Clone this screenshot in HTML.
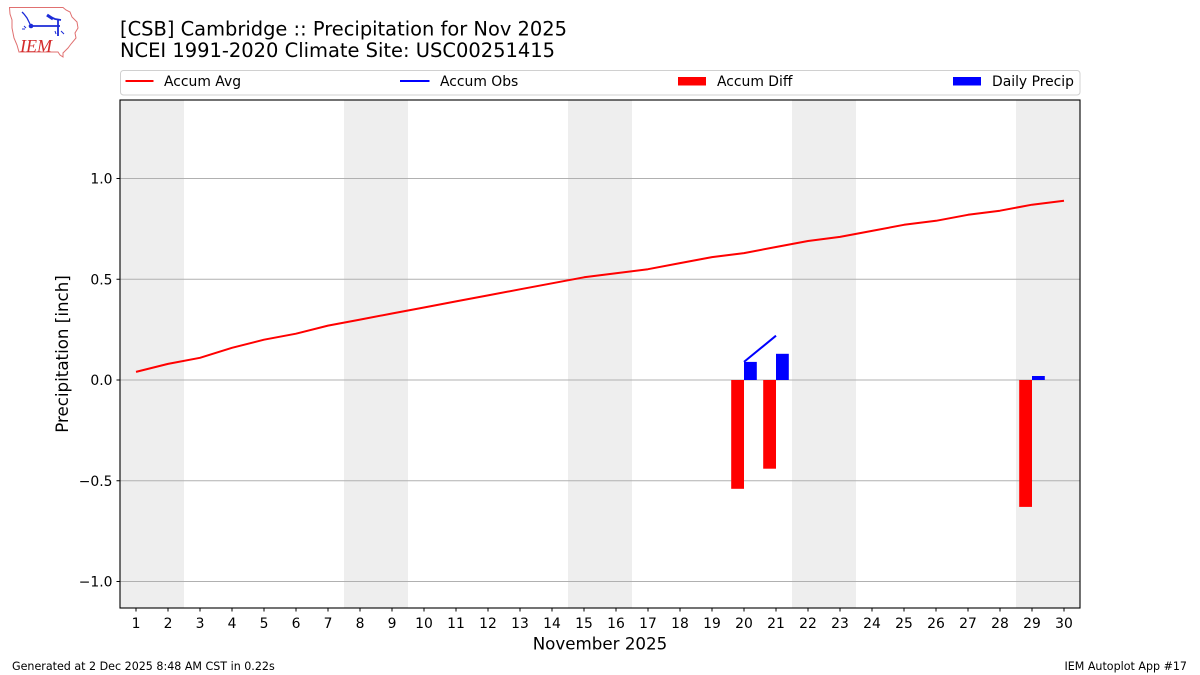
<!DOCTYPE html>
<html><head><meta charset="utf-8"><style>
html,body{margin:0;padding:0;background:#fff;}
svg{display:block;}
text{font-family:"DejaVu Sans","Liberation Sans",sans-serif;fill:#000;}
</style></head><body>
<svg width="1200" height="675" viewBox="0 0 1200 675" xmlns="http://www.w3.org/2000/svg">
<!-- logo -->
<g>
<path d="M9.5,7.5 L63,7.5 L66,10 L70,12 L72,17 L77,22 L78,28 L75,33 L76,38 L71,44 L68,48 L65,51 L63,53 L63,57 L60,55 L58,52 L19,52 L17,45 L14,38 L12,28 L12,20 L10,14 Z" fill="#fff" stroke="#e07070" stroke-width="1"/>
<path d="M22,12 L24,14 M24,14 L27,18 L30,24" stroke="#1c2bd8" stroke-width="1.3" fill="none"/>
<circle cx="31" cy="26" r="2.3" fill="#1c2bd8"/>
<path d="M31,26 L60,26 M58,20 L58,36 M48,16 L55,19 L61,20" stroke="#1c2bd8" stroke-width="1.8" fill="none"/>
<path d="M47,15 L53,19" stroke="#1c2bd8" stroke-width="3" fill="none"/>
<path d="M24,26 L26,28 M22,29 L25,29 M55,31 L56,34 M61,31 L64,34" stroke="#1c2bd8" stroke-width="1" fill="none"/>
<text x="20" y="52" style="font-family:'Liberation Serif',serif;font-style:italic;font-size:18px;fill:#d42a2a;">IEM</text>
</g>
<!-- title -->
<text x="120" y="35.5" font-size="19.4" textLength="447" lengthAdjust="spacingAndGlyphs">[CSB] Cambridge :: Precipitation for Nov 2025</text>
<text x="120" y="57" font-size="19.4" textLength="435" lengthAdjust="spacingAndGlyphs">NCEI 1991-2020 Climate Site: USC00251415</text>
<!-- legend -->
<rect x="120.5" y="70.5" width="959.5" height="24.5" rx="3" fill="#fff" stroke="#d0d0d0" stroke-width="1"/>
<line x1="125.5" y1="81" x2="153.5" y2="81" stroke="#ff0000" stroke-width="2"/>
<text x="164" y="86" font-size="13.9">Accum Avg</text>
<line x1="400" y1="81" x2="429.5" y2="81" stroke="#0000ff" stroke-width="2"/>
<text x="440" y="86" font-size="13.9">Accum Obs</text>
<rect x="678" y="77" width="28" height="8.5" fill="#ff0000"/>
<text x="717" y="86" font-size="13.9">Accum Diff</text>
<rect x="953" y="77" width="28" height="8.5" fill="#0000ff"/>
<text x="992" y="86" font-size="13.9">Daily Precip</text>
<!-- plot area -->
<rect x="120" y="100" width="960" height="508" fill="#fff"/>
<g fill="#eeeeee">
<rect x="120" y="100" width="64" height="508"/>
<rect x="344" y="100" width="64" height="508"/>
<rect x="568" y="100" width="64" height="508"/>
<rect x="792" y="100" width="64" height="508"/>
<rect x="1016" y="100" width="64" height="508"/>
</g>
<g stroke="#b0b0b0" stroke-width="1">
<line x1="120" y1="178.5" x2="1080" y2="178.5"/>
<line x1="120" y1="279.25" x2="1080" y2="279.25"/>
<line x1="120" y1="380" x2="1080" y2="380"/>
<line x1="120" y1="480.75" x2="1080" y2="480.75"/>
<line x1="120" y1="581.5" x2="1080" y2="581.5"/>
</g>
<!-- bars -->
<g fill="#ff0000">
<rect x="731.2" y="380" width="12.8" height="108.8"/>
<rect x="763.2" y="380" width="12.8" height="88.7"/>
<rect x="1019.2" y="380" width="12.8" height="126.9"/>
</g>
<g fill="#0000ff">
<rect x="744" y="361.9" width="12.8" height="18.1"/>
<rect x="776" y="353.8" width="12.8" height="26.2"/>
<rect x="1032" y="376" width="12.8" height="4"/>
</g>
<!-- avg line -->
<polyline fill="none" stroke="#ff0000" stroke-width="2" stroke-linejoin="round" stroke-linecap="butt" points="136,371.9 168,363.9 200,357.8 232,347.8 264,339.7 296,333.7 328,325.6 360,319.6 392,313.5 424,307.5 456,301.4 488,295.4 520,289.3 552,283.3 584,277.3 616,273.2 648,269.2 680,263.1 712,257.1 744,253.1 776,247 808,241 840,236.9 872,230.9 904,224.8 936,220.8 968,214.8 1000,210.7 1032,204.7 1064,200.7"/>
<!-- obs line -->
<polyline fill="none" stroke="#0000ff" stroke-width="2" points="744,361.9 776,335.7"/>
<!-- axes frame -->
<rect x="120" y="100" width="960" height="508" fill="none" stroke="#000" stroke-width="1.1"/>
<!-- y ticks -->
<g stroke="#000" stroke-width="1">
<line x1="116.5" y1="178.5" x2="120" y2="178.5"/>
<line x1="116.5" y1="279.25" x2="120" y2="279.25"/>
<line x1="116.5" y1="380" x2="120" y2="380"/>
<line x1="116.5" y1="480.75" x2="120" y2="480.75"/>
<line x1="116.5" y1="581.5" x2="120" y2="581.5"/>
</g>
<g font-size="13.9" text-anchor="end">
<text x="112.5" y="183.5">1.0</text>
<text x="112.5" y="284.3">0.5</text>
<text x="112.5" y="385">0.0</text>
<text x="112.5" y="485.8">−0.5</text>
<text x="112.5" y="586.5">−1.0</text>
</g>
<!-- x ticks -->
<g stroke="#000" stroke-width="1">
<line x1="136" y1="608" x2="136" y2="611.5"/><line x1="168" y1="608" x2="168" y2="611.5"/><line x1="200" y1="608" x2="200" y2="611.5"/><line x1="232" y1="608" x2="232" y2="611.5"/><line x1="264" y1="608" x2="264" y2="611.5"/><line x1="296" y1="608" x2="296" y2="611.5"/><line x1="328" y1="608" x2="328" y2="611.5"/><line x1="360" y1="608" x2="360" y2="611.5"/><line x1="392" y1="608" x2="392" y2="611.5"/><line x1="424" y1="608" x2="424" y2="611.5"/><line x1="456" y1="608" x2="456" y2="611.5"/><line x1="488" y1="608" x2="488" y2="611.5"/><line x1="520" y1="608" x2="520" y2="611.5"/><line x1="552" y1="608" x2="552" y2="611.5"/><line x1="584" y1="608" x2="584" y2="611.5"/><line x1="616" y1="608" x2="616" y2="611.5"/><line x1="648" y1="608" x2="648" y2="611.5"/><line x1="680" y1="608" x2="680" y2="611.5"/><line x1="712" y1="608" x2="712" y2="611.5"/><line x1="744" y1="608" x2="744" y2="611.5"/><line x1="776" y1="608" x2="776" y2="611.5"/><line x1="808" y1="608" x2="808" y2="611.5"/><line x1="840" y1="608" x2="840" y2="611.5"/><line x1="872" y1="608" x2="872" y2="611.5"/><line x1="904" y1="608" x2="904" y2="611.5"/><line x1="936" y1="608" x2="936" y2="611.5"/><line x1="968" y1="608" x2="968" y2="611.5"/><line x1="1000" y1="608" x2="1000" y2="611.5"/><line x1="1032" y1="608" x2="1032" y2="611.5"/><line x1="1064" y1="608" x2="1064" y2="611.5"/>
</g>
<g font-size="13.9" text-anchor="middle">
<text x="136" y="628">1</text><text x="168" y="628">2</text><text x="200" y="628">3</text><text x="232" y="628">4</text><text x="264" y="628">5</text><text x="296" y="628">6</text><text x="328" y="628">7</text><text x="360" y="628">8</text><text x="392" y="628">9</text><text x="424" y="628">10</text><text x="456" y="628">11</text><text x="488" y="628">12</text><text x="520" y="628">13</text><text x="552" y="628">14</text><text x="584" y="628">15</text><text x="616" y="628">16</text><text x="648" y="628">17</text><text x="680" y="628">18</text><text x="712" y="628">19</text><text x="744" y="628">20</text><text x="776" y="628">21</text><text x="808" y="628">22</text><text x="840" y="628">23</text><text x="872" y="628">24</text><text x="904" y="628">25</text><text x="936" y="628">26</text><text x="968" y="628">27</text><text x="1000" y="628">28</text><text x="1032" y="628">29</text><text x="1064" y="628">30</text>
</g>
<!-- axis labels -->
<text x="600" y="649.5" font-size="16.7" text-anchor="middle">November 2025</text>
<text transform="translate(68,354) rotate(-90)" font-size="16.7" text-anchor="middle">Precipitation [inch]</text>
<!-- footer -->
<text x="12" y="670" font-size="11.1">Generated at 2 Dec 2025 8:48 AM CST in 0.22s</text>
<text x="1187" y="670" font-size="11.1" text-anchor="end">IEM Autoplot App #17</text>
</svg>
</body></html>
